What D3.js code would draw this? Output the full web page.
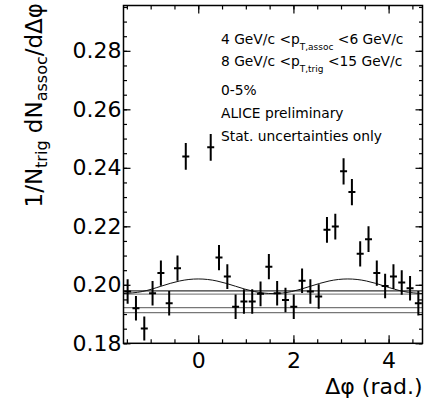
<!DOCTYPE html>
<html>
<head>
<meta charset="utf-8">
<script src="https://cdn.jsdelivr.net/npm/d3@7"></script>
<style>
body { margin: 0; background: #fff; }
text { font-family: "DejaVu Sans", sans-serif; fill: #000; }
</style>
</head>
<body>
<svg id="chart" width="429" height="406"></svg>
<script>
// delta phi bin centres (rad.)
const dphi = [-1.484, -1.309, -1.134, -0.960, -0.785, -0.611, -0.436, -0.262, -0.087,
              0.087, 0.262, 0.436, 0.611, 0.785, 0.960, 1.134, 1.309, 1.484,
              1.658, 1.833, 2.007, 2.182, 2.356, 2.531, 2.705, 2.880, 3.054,
              3.229, 3.403, 3.578, 3.752, 3.927, 4.102, 4.276, 4.451, 4.625];
// per-trigger yield, near side peak bins are off scale (null)
const yieldVals = [0.1977, 0.1920, 0.1851, 0.1971, 0.2040, 0.1937, 0.2057, 0.2439, null,
                   null, 0.2470, 0.2093, 0.2028, 0.1925, 0.1943, 0.1943, 0.1969, 0.2062,
                   0.1971, 0.1948, 0.1925, 0.2014, 0.1977, 0.1960, 0.2188, 0.2199, 0.2388,
                   0.2317, 0.2106, 0.2156, 0.2040, 0.1996, 0.2028, 0.2008, 0.1988, 0.1937];
const yieldErr = [0.0042, 0.0042, 0.0041, 0.0042, 0.0043, 0.0042, 0.0043, 0.0046, null,
                  null, 0.0046, 0.0043, 0.0042, 0.0042, 0.0042, 0.0042, 0.0042, 0.0043,
                  0.0042, 0.0042, 0.0042, 0.0042, 0.0042, 0.0042, 0.0044, 0.0044, 0.0045,
                  0.0045, 0.0043, 0.0044, 0.0043, 0.0042, 0.0042, 0.0042, 0.0042, 0.0042];

// flow modulated background read at a few delta phi values
const bkgPhi = [-1.571, -1.178, -0.785, -0.393, 0, 0.393, 0.785, 1.178, 1.571,
                1.963, 2.356, 2.749, 3.142, 3.534, 3.927, 4.320, 4.712];
const bkgVals = [0.1970, 0.1977, 0.1995, 0.2013, 0.2020, 0.2013, 0.1995, 0.1977, 0.1970,
                 0.1977, 0.1995, 0.2013, 0.2020, 0.2013, 0.1995, 0.1977, 0.1970];

// flat reference levels
const levels = [0.1979, 0.1968, 0.1922, 0.1905];
const levelColors = ["#333", "#888", "#777", "#777"];

const xTicks = [0, 2, 4];
const yTicks = [0.18, 0.20, 0.22, 0.24, 0.26, 0.28];

var svg = d3.select("#chart");
svg.append("rect").attr("width", 429).attr("height", 406).attr("fill", "#fff");

var pLeft = 123.5, pRight = 422.5, pTop = 5.5, pBottom = 343.3;

var x = d3.scaleLinear().domain([-Math.PI / 2, 3 * Math.PI / 2]).range([pLeft, pRight]);
var y = d3.scaleLinear().domain([0.18, 0.2955]).range([pBottom, pTop]);

svg.append("clipPath").attr("id", "clip")
    .append("rect").attr("x", pLeft).attr("y", pTop)
    .attr("width", pRight - pLeft).attr("height", pBottom - pTop);

var plot = svg.append("g").attr("clip-path", "url(#clip)");

// reference levels
plot.selectAll("line.level").data(levels).enter().append("line")
    .attr("class", "level")
    .attr("x1", pLeft).attr("x2", pRight)
    .attr("y1", d => y(d)).attr("y2", d => y(d))
    .attr("stroke", (d, i) => levelColors[i])
    .attr("stroke-width", 1.2);

// background curve
var line = d3.line().x(d => x(d[0])).y(d => y(d[1])).curve(d3.curveNatural);
plot.append("path")
    .datum(bkgPhi.map((p, i) => [p, bkgVals[i]]))
    .attr("d", line)
    .attr("fill", "none")
    .attr("stroke", "#111")
    .attr("stroke-width", 1);

// data points with error bars
var pts = dphi.map((p, i) => ({phi: p, v: yieldVals[i], e: yieldErr[i]}))
    .filter(d => d.v !== null);
var halfW = 3.5;
var pg = plot.selectAll("g.pt").data(pts).enter().append("g").attr("class", "pt");
pg.append("line")
    .attr("x1", d => x(d.phi)).attr("x2", d => x(d.phi))
    .attr("y1", d => y(d.v - d.e)).attr("y2", d => y(d.v + d.e))
    .attr("stroke", "#000").attr("stroke-width", 2);
pg.append("line")
    .attr("x1", d => x(d.phi) - halfW).attr("x2", d => x(d.phi) + halfW)
    .attr("y1", d => y(d.v)).attr("y2", d => y(d.v))
    .attr("stroke", "#000").attr("stroke-width", 2);

// axes: major + minor ticks pointing inward, mirrored on top and right
var xMinor = d3.range(-1.5, 4.71, 0.5);
var yMinor = d3.range(0.18, 0.2956, 0.005);

function drawAxis(axis, tr, labels) {
    var g = svg.append("g").attr("transform", tr).call(axis);
    g.select(".domain").remove();
    g.selectAll(".tick line").attr("stroke", "#000").attr("stroke-width", 1.2);
    if (!labels) g.selectAll("text").remove();
    else g.selectAll("text").style("font-size", "22px").attr("font-family", null);
    return g;
}

drawAxis(d3.axisBottom(x).tickValues(xMinor).tickSize(-4).tickFormat(""), `translate(0,${pBottom})`, false);
drawAxis(d3.axisBottom(x).tickValues(xTicks).tickSize(-8).tickPadding(9).tickFormat(d3.format("d")), `translate(0,${pBottom})`, true);
drawAxis(d3.axisTop(x).tickValues(xMinor).tickSize(-4).tickFormat(""), `translate(0,${pTop})`, false);
drawAxis(d3.axisTop(x).tickValues(xTicks).tickSize(-8).tickFormat(""), `translate(0,${pTop})`, false);

drawAxis(d3.axisLeft(y).tickValues(yMinor).tickSize(-3.5).tickFormat(""), `translate(${pLeft},0)`, false);
drawAxis(d3.axisLeft(y).tickValues(yTicks).tickSize(-7).tickPadding(2).tickFormat(d3.format(".2f")), `translate(${pLeft},0)`, true);
drawAxis(d3.axisRight(y).tickValues(yMinor).tickSize(-3.5).tickFormat(""), `translate(${pRight},0)`, false);
drawAxis(d3.axisRight(y).tickValues(yTicks).tickSize(-7).tickFormat(""), `translate(${pRight},0)`, false);

// frame
svg.append("rect")
    .attr("x", pLeft).attr("y", pTop)
    .attr("width", pRight - pLeft).attr("height", pBottom - pTop)
    .attr("fill", "none").attr("stroke", "#000").attr("stroke-width", 1.5);

// axis titles
svg.append("text")
    .attr("x", pRight).attr("y", 394)
    .attr("text-anchor", "end")
    .style("font-size", "22px")
    .text("Δφ (rad.)");

var yl = svg.append("text")
    .attr("transform", "translate(42,3) rotate(-90)")
    .attr("text-anchor", "end")
    .style("font-size", "23px");
yl.append("tspan").text("1/N");
yl.append("tspan").attr("dy", 5).style("font-size", "16px").text("trig");
yl.append("tspan").attr("dy", -5).text(" dN");
yl.append("tspan").attr("dy", 5).style("font-size", "16px").text("assoc");
yl.append("tspan").attr("dy", -5).text("/dΔφ");

// legend text
var lx = 221, fs = "13.8px", sfs = "9px";
var t1 = svg.append("text").attr("x", lx).attr("y", 44).style("font-size", fs);
t1.append("tspan").text("4 GeV/c <p");
t1.append("tspan").attr("dy", 6).style("font-size", sfs).text("T,assoc");
t1.append("tspan").attr("dy", -6).text(" <6 GeV/c");

var t2 = svg.append("text").attr("x", lx).attr("y", 66).style("font-size", fs);
t2.append("tspan").text("8 GeV/c <p");
t2.append("tspan").attr("dy", 6).style("font-size", sfs).text("T,trig");
t2.append("tspan").attr("dy", -6).text(" <15 GeV/c");

const notes = ["0-5%", "ALICE preliminary", "Stat. uncertainties only"];
const noteY = [95, 118, 141];
svg.selectAll("text.note").data(notes).enter().append("text")
    .attr("class", "note")
    .attr("x", lx).attr("y", (d, i) => noteY[i])
    .style("font-size", fs)
    .text(d => d);
</script>
</body>
</html>
